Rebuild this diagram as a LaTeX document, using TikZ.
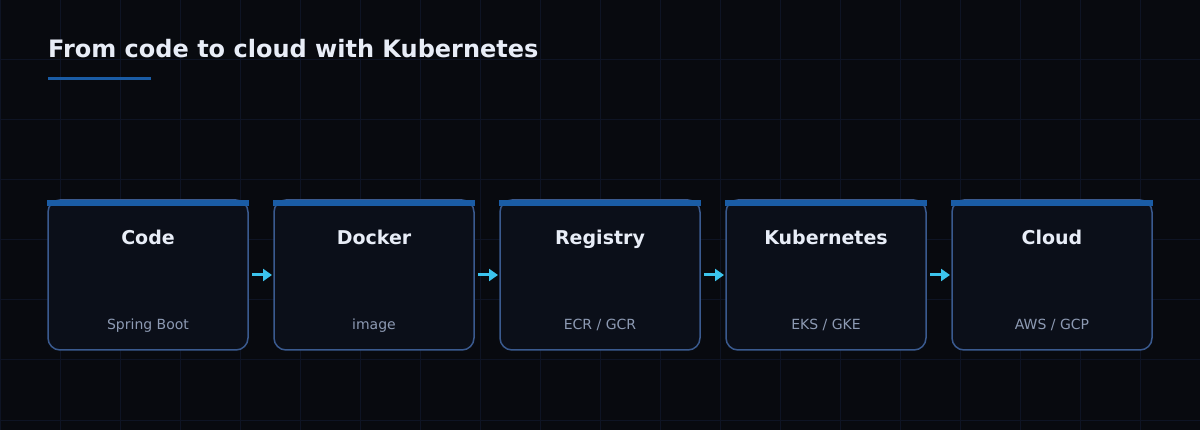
\documentclass[tikz,border=0pt]{standalone}
\usepackage{fontspec}
\setmainfont{DejaVu Sans}
\usetikzlibrary{arrows.meta}
\definecolor{bg}{HTML}{080A0F}
\definecolor{gridc}{HTML}{0E1424}
\definecolor{boxfill}{HTML}{0B0F19}
\definecolor{boxline}{HTML}{3A5A8F}
\definecolor{barc}{HTML}{1A5CA5}
\definecolor{titlec}{HTML}{E8EDF7}
\definecolor{subc}{HTML}{8D9AB3}
\definecolor{arrowc}{HTML}{3CC4EE}
\tikzset{
  gridline/.style={draw=gridc, line width=1pt},
  stage/.style={draw=boxline, fill=boxfill, line width=1.5pt, rounded corners=12pt,
    minimum width=200pt, minimum height=150pt, inner sep=0pt, outer sep=0pt},
  stagebar/.style={fill=barc},
  stagetitle/.style={anchor=base, text=titlec, font=\fontsize{19}{21}\selectfont\bfseries, inner sep=0pt},
  stagesub/.style={anchor=base, text=subc, font=\fontsize{14}{16}\selectfont, inner sep=0pt},
  flow/.style={draw=arrowc, line width=3pt, -{Triangle[length=9pt,width=12pt]}, shorten <=4pt, shorten >=2pt},
}
\begin{document}
\begin{tikzpicture}[x=1pt,y=-1pt]
\fill[bg] (0,0) rectangle (1200,430);
\useasboundingbox (0,0) rectangle (1200,430);
\foreach \x in {0,60,...,1200} \draw[gridline] (\x,0) -- (\x,430);
\foreach \y in {0,60,...,420} \draw[gridline] (0,\y) -- (1200,\y);
\node[anchor=base west, inner sep=0pt, text=titlec, font=\fontsize{24}{28}\selectfont\bfseries] (title) at (48,57.5) {From code to cloud with Kubernetes};
\fill[barc] (48,77.5) rectangle (151,80.5);
\foreach \n/\cx/\t/\s in {code/148/Code/{Spring Boot}, docker/374/Docker/{image}, registry/600/Registry/{ECR / GCR}, kube/826/Kubernetes/{EKS / GKE}, cloud/1052/Cloud/{AWS / GCP}}{
  \node[stage] (\n) at (\cx,275) {};
  \fill[stagebar] ([xshift=-0.75pt]\n.north west) rectangle ([xshift=1pt,yshift=-6pt]\n.north east);
  \node[stagetitle] (\n t) at (\cx,244.5) {\t};
  \node[stagesub] (\n s) at (\cx,329.5) {\s};
}
\draw[flow] (code.east) -- (docker.west);
\draw[flow] (docker.east) -- (registry.west);
\draw[flow] (registry.east) -- (kube.west);
\draw[flow] (kube.east) -- (cloud.west);
\end{tikzpicture}
\end{document}
